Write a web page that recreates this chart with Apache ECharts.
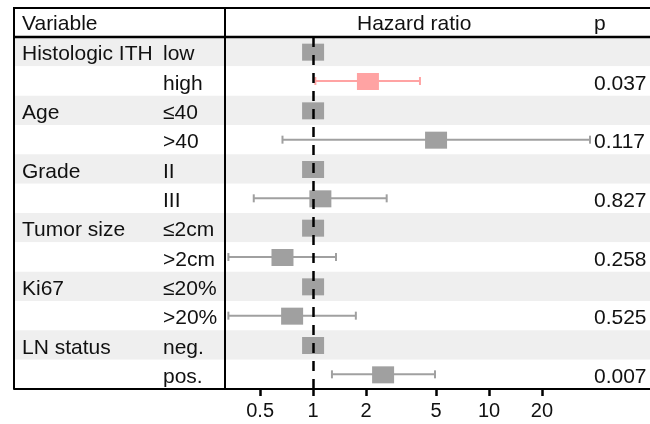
<!DOCTYPE html>
<html>
<head>
<meta charset="utf-8">
<script src="https://cdn.jsdelivr.net/npm/echarts@6/dist/echarts.min.js"></script>
<style>
  html, body { margin: 0; padding: 0; background: #fff; }
  #main { width: 650px; height: 424px; }
</style>
</head>
<body>
<div id="main"></div>
<script>
// forest plot data
const groups = ["Histologic ITH", "", "Age", "", "Grade", "", "Tumor size", "", "Ki67", "", "LN status", ""];
const levels = ["low", "high", "≤40", ">40", "II", "III", "≤2cm", ">2cm", "≤20%", ">20%", "neg.", "pos."];
const hazard = [1, 2.05, 1, 5.0, 1, 1.1, 1, 0.67, 1, 0.76, 1, 2.5];
const ciLow = [null, 1.03, null, 0.67, null, 0.46, null, 0.33, null, 0.33, null, 1.28];
const ciHigh = [null, 4.05, null, 37.5, null, 2.62, null, 1.35, null, 1.75, null, 4.93];
const pValues = ["", "0.037", "", "0.117", "", "0.827", "", "0.258", "", "0.525", "", "0.007"];
const tickValues = [0.5, 1, 2, 5, 10, 20];
const highlighted = ["high"];

const FONT = "'Liberation Sans', Arial, sans-serif";
const GREY = "#a0a0a0";
const PINK = "#ffa3a3";

const lg = (v) => (v == null ? NaN : Math.log10(v));
const tickLogs = tickValues.map(lg);

const myChart = echarts.init(document.getElementById("main"));

const rows = levels.map((lvl, i) => [lg(hazard[i]), i, lg(ciLow[i]), lg(ciHigh[i])]);

myChart.setOption({
  animation: false,
  textStyle: { fontFamily: FONT },
  grid: { left: 14, right: 0, top: 37, bottom: 35 },
  xAxis: {
    type: "value",
    min: -1.7,
    max: 1.915,
    splitLine: { show: false },
    axisLine: { show: true, onZero: false, lineStyle: { color: "#000", width: 2 } },
    axisTick: {
      show: true,
      customValues: tickLogs,
      length: 7,
      lineStyle: { color: "#000", width: 2.5 }
    },
    axisLabel: {
      customValues: tickLogs,
      fontSize: 20,
      color: "#111",
      margin: 12,
      fontFamily: FONT,
      formatter: (v) => {
        const k = tickLogs.findIndex((t) => Math.abs(t - v) < 1e-6);
        return k >= 0 ? String(tickValues[k]) : "";
      }
    }
  },
  yAxis: [
    {
      type: "category",
      data: levels,
      inverse: true,
      axisLine: { show: false },
      axisTick: { show: false },
      splitArea: { show: true, areaStyle: { color: ["#efefef", "#ffffff"] } },
      axisLabel: {
        inside: true,
        margin: 8,
        align: "left",
        padding: [6, 0, 0, 0],
        formatter: (v, i) => "{a|" + groups[i] + "}{b|" + v + "}",
        rich: {
          a: { width: 141, fontSize: 21, color: "#111", fontFamily: FONT },
          b: { fontSize: 21, color: "#111", fontFamily: FONT }
        }
      }
    },
    {
      type: "category",
      data: pValues,
      inverse: true,
      position: "right",
      axisLine: { show: false },
      axisTick: { show: false },
      axisLabel: {
        inside: true,
        margin: 56,
        align: "left",
        padding: [6, 0, 0, 0],
        formatter: (v) => "{p|" + v + "}",
        rich: {
          p: { fontSize: 21, color: "#111", fontFamily: FONT }
        }
      }
    }
  ],
  graphic: [
    { type: "polyline", shape: { points: [[650, 8], [14, 8], [14, 389]] }, style: { stroke: "#000", lineWidth: 2, fill: null }, z: 100 },
    { type: "line", shape: { x1: 14, y1: 37, x2: 650, y2: 37 }, style: { stroke: "#000", lineWidth: 2.5 }, z: 100 },
    { type: "line", shape: { x1: 225, y1: 8, x2: 225, y2: 389 }, style: { stroke: "#000", lineWidth: 2 }, z: 100 },
    { type: "text", left: 22, top: 14, style: { text: "Variable", font: "21px " + FONT, fill: "#111" } },
    { type: "text", left: 357, top: 14, style: { text: "Hazard ratio", font: "21px " + FONT, fill: "#111" } },
    { type: "text", left: 594, top: 14, style: { text: "p", font: "21px " + FONT, fill: "#111" } }
  ],
  series: [
    {
      type: "custom",
      clip: false,
      data: rows,
      encode: { x: 0, y: 1 },
      renderItem: (params, api) => {
        const i = api.value(1);
        const color = highlighted.includes(levels[i]) ? PINK : GREY;
        const c = api.coord([api.value(0), i]);
        const kids = [];
        const lo = api.value(2);
        const hi = api.value(3);
        if (!isNaN(lo) && !isNaN(hi)) {
          const p1 = api.coord([lo, i]);
          const p2 = api.coord([hi, i]);
          const ls = { stroke: color, lineWidth: 2 };
          kids.push({ type: "line", shape: { x1: p1[0], y1: c[1], x2: p2[0], y2: c[1] }, style: ls });
          kids.push({ type: "line", shape: { x1: p1[0], y1: c[1] - 4, x2: p1[0], y2: c[1] + 4 }, style: ls });
          kids.push({ type: "line", shape: { x1: p2[0], y1: c[1] - 4, x2: p2[0], y2: c[1] + 4 }, style: ls });
        }
        kids.push({ type: "rect", shape: { x: c[0] - 11, y: c[1] - 8, width: 22, height: 17 }, style: { fill: color } });
        return { type: "group", children: kids };
      },
      markLine: {
        silent: true,
        symbol: "none",
        label: { show: false },
        lineStyle: { color: "#000", width: 2.5, type: [10, 8] },
        data: [{ xAxis: 0 }]
      },
      z: 3
    }
  ]
});
</script>
</body>
</html>
